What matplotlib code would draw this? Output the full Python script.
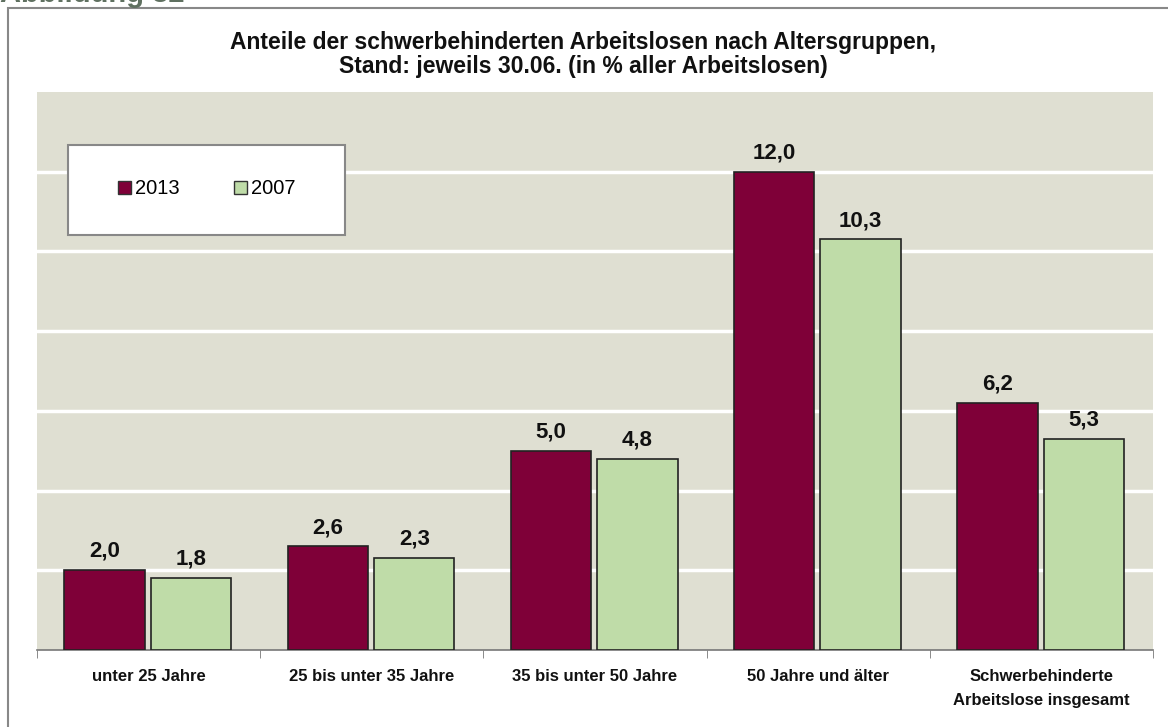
import numpy as np
import matplotlib
matplotlib.use("Agg")
import matplotlib.pyplot as plt
from matplotlib.patches import Rectangle, Patch

plt.rcParams["font.family"] = ["Liberation Sans", "DejaVu Sans"]

# Daten
kategorien = ["unter 25 Jahre", "25 bis unter 35 Jahre", "35 bis unter 50 Jahre",
              "50 Jahre und älter", "Schwerbehinderte\nArbeitslose insgesamt"]
werte_2013 = [2.0, 2.6, 5.0, 12.0, 6.2]
werte_2007 = [1.8, 2.3, 4.8, 10.3, 5.3]
serien = ["2013", "2007"]

farbe_2013 = "#7f0038"
farbe_2007 = "#bfdca8"
hintergrund = "#dfdfd2"

W, H = 1168, 727
fig = plt.figure(figsize=(W / 100, H / 100), dpi=100)
ax = fig.add_axes([37 / W, 1 - 650 / H, (1153 - 37) / W, (650 - 92) / H])
ax.set_facecolor(hintergrund)

x = np.arange(len(kategorien))
breite = 0.36
b1 = ax.bar(x - 0.197, werte_2013, breite, color=farbe_2013, edgecolor="#222222", linewidth=1.2, zorder=3)
b2 = ax.bar(x + 0.19, werte_2007, breite, color=farbe_2007, edgecolor="#222222", linewidth=1.2, zorder=3)

for bars, werte in [(b1, werte_2013), (b2, werte_2007)]:
    for b, v in zip(bars, werte):
        ax.annotate(f"{v:.1f}".replace(".", ","), (b.get_x() + b.get_width() / 2, v),
                    xytext=(0, 6), textcoords="offset points", ha="center", va="bottom",
                    fontsize=16, fontweight="bold", color="#111111")

ax.set_xlim(-0.5, len(kategorien) - 0.5)
ax.set_ylim(0, 14)
ax.set_yticks(np.arange(2, 14, 2))
ax.yaxis.grid(True, color="white", linewidth=2.5, zorder=1)
ax.tick_params(axis="y", left=False, labelleft=False)

ax.set_xticks(x)
ax.set_xticklabels(kategorien, fontsize=12, fontweight="bold", color="#111111", linespacing=1.75)
ax.tick_params(axis="x", which="major", length=0, pad=14)
ax.set_xticks(np.arange(-0.5, len(kategorien), 1), minor=True)
ax.tick_params(axis="x", which="minor", length=6, color="#777777", direction="out")

for s in ["top", "right", "left"]:
    ax.spines[s].set_visible(False)
ax.spines["bottom"].set_color("#777777")
ax.spines["bottom"].set_linewidth(1.2)

# Legende mit eigenem Kasten
ax.add_patch(Rectangle((31 / 1116, (650 - 235) / 558), (345 - 68) / 1116, 90 / 558,
                       transform=ax.transAxes, facecolor="white", edgecolor="#888888",
                       linewidth=1.5, zorder=5))
handles = [Patch(facecolor=farbe_2013, edgecolor="#333333"),
           Patch(facecolor=farbe_2007, edgecolor="#333333")]
leg = ax.legend(handles, serien, loc="center", bbox_to_anchor=((207 - 37) / 1116, (650 - 189) / 558),
                ncol=2, frameon=False, fontsize=14.5, handlelength=0.65, handleheight=0.65,
                handletextpad=0.2, columnspacing=2.7)
leg.set_zorder(6)

fig.text(583 / W, 1 - 43 / H, "Anteile der schwerbehinderten Arbeitslosen nach Altersgruppen,",
         ha="center", va="center", fontsize=16.5, fontweight="bold", color="#111111")
fig.text(583 / W, 1 - 67 / H, "Stand: jeweils 30.06. (in % aller Arbeitslosen)",
         ha="center", va="center", fontsize=16.5, fontweight="bold", color="#111111")

fig.text(0, 1 - 2 / H, "Abbildung 32", ha="left", va="baseline", fontsize=21,
         fontweight="bold", color="#5f7060")

fig.add_artist(Rectangle((8 / W, -0.05), 1.0, 1.05 - 8 / H, transform=fig.transFigure,
                         facecolor="none", edgecolor="#888888", linewidth=1.5))

fig.savefig("out.png", dpi=100)
